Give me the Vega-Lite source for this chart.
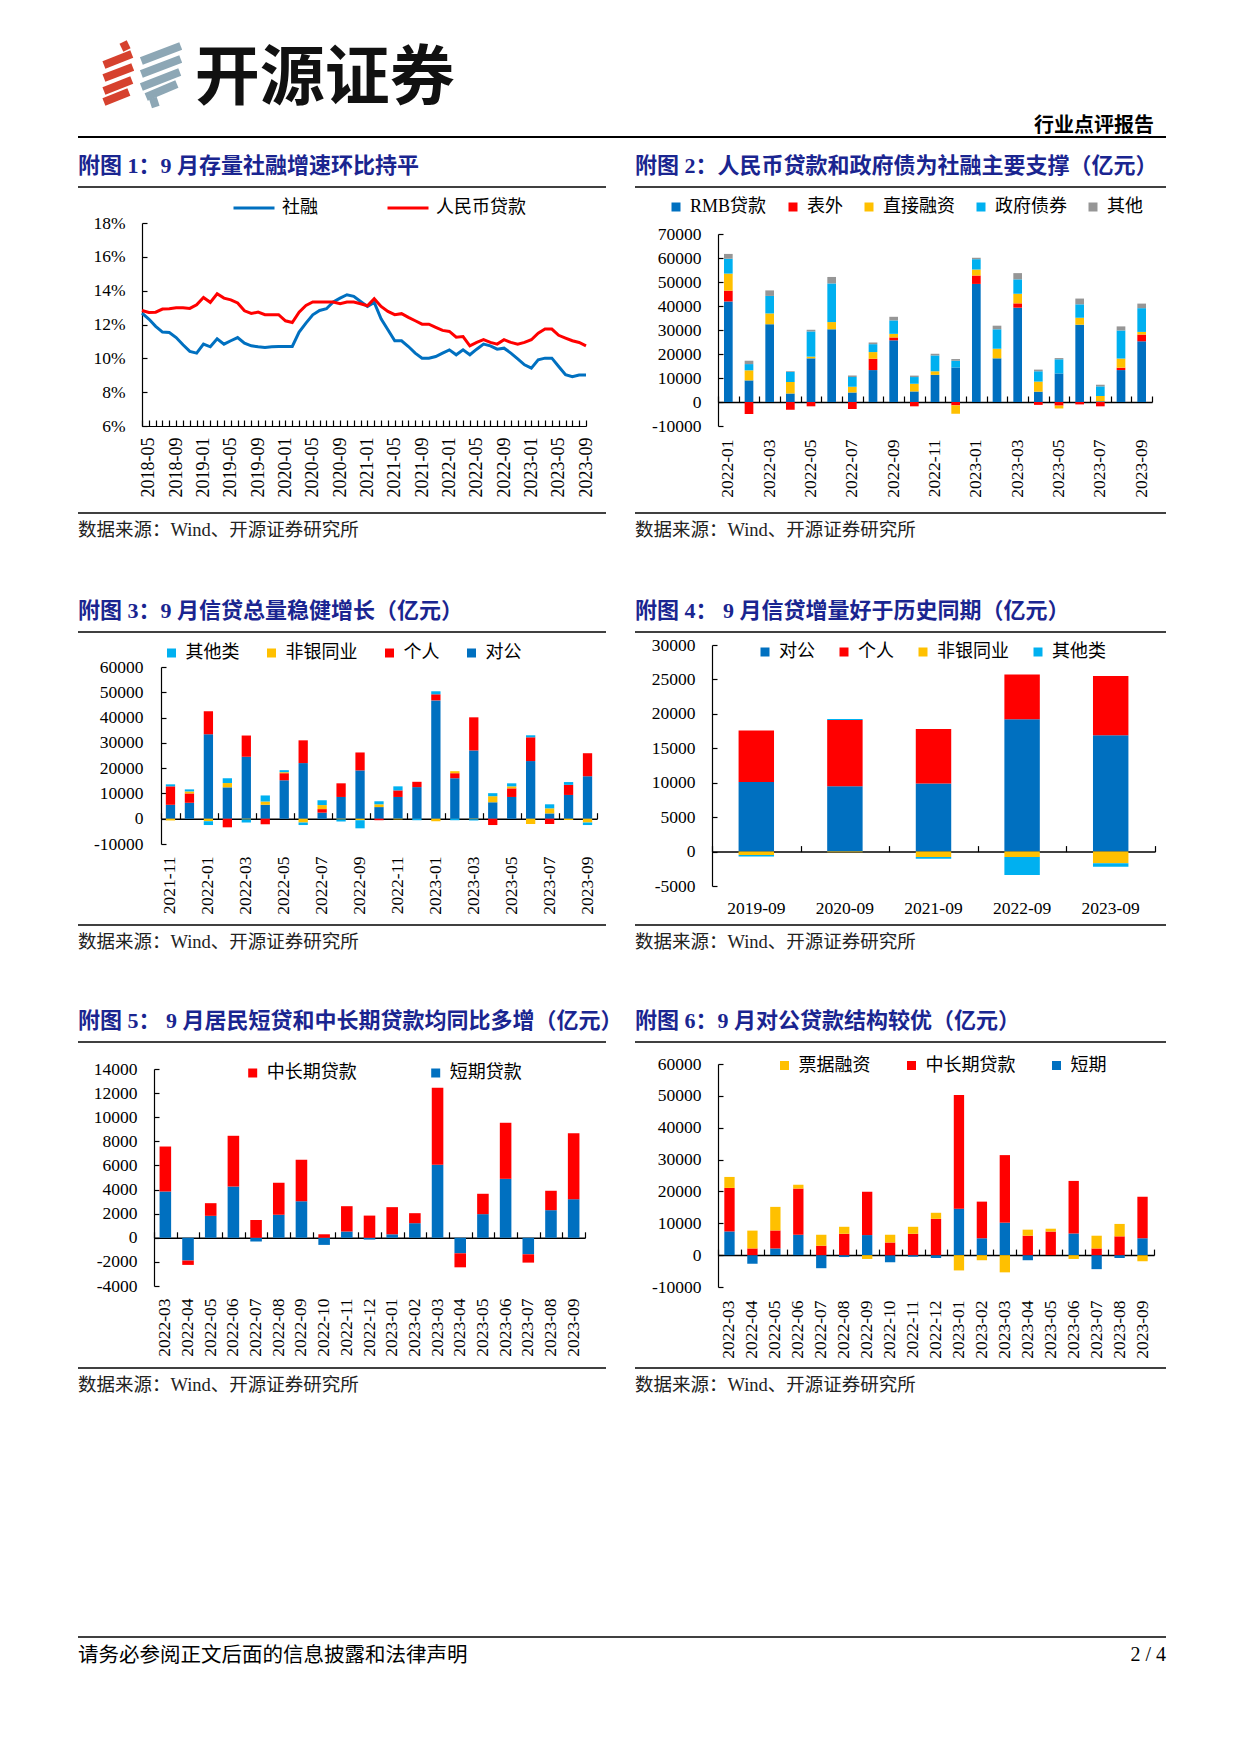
{
"$schema": "https://vega.github.io/schema/vega-lite/v6.json",
"padding": 0,
"background": "white",
"columns": 4,
"spacing": 0,
"bounds": "flush",
"resolve": {"scale": {"color": "independent"}, "legend": {"color": "independent"}},
"config": {
  "view": {"stroke": null},
  "axis": {"labelFont": "Liberation Serif", "labelFontSize": 17.5, "labelColor": "#000", "domainColor": "#000", "tickColor": "#000", "domainWidth": 1.2, "tickWidth": 1.2, "grid": false, "labelOverlap": false},
  "legend": {"labelFont": "Liberation Serif, Noto Sans CJK SC", "labelFontSize": 18, "labelColor": "#000", "padding": 0, "labelOffset": 5, "symbolStrokeWidth": 0, "symbolType": "square", "symbolSize": 81, "symbolOpacity": 1}
},
"concat": [
  {"width": 78, "height": 1, "data": {"values": []}, "mark": "point"},
  {"width": 1, "height": 42, "data": {"values": []}, "mark": "point"},
  {"width": 1, "height": 1, "data": {"values": []}, "mark": "point"},
  {"width": 1, "height": 1, "data": {"values": []}, "mark": "point"},

  {"width": 1, "height": 1, "data": {"values": []}, "mark": "point"},
  {"width": 528, "height": 65,
   "layer": [
     {"data": {"values": [
       {"x1": 27, "y1": 23, "x2": 56, "y2": 12, "c": "红"},
       {"x1": 27, "y1": 36, "x2": 57, "y2": 25, "c": "红"},
       {"x1": 27, "y1": 49, "x2": 56, "y2": 38, "c": "红"},
       {"x1": 27, "y1": 60, "x2": 53, "y2": 50, "c": "红"},
       {"x1": 47, "y1": 0, "x2": 51, "y2": 8, "c": "红"},
       {"x1": 66, "y1": 19, "x2": 107, "y2": 4, "c": "蓝"},
       {"x1": 66, "y1": 32, "x2": 107, "y2": 17, "c": "蓝"},
       {"x1": 66, "y1": 45, "x2": 106, "y2": 30, "c": "蓝"},
       {"x1": 71, "y1": 55, "x2": 103, "y2": 42, "c": "蓝"},
       {"x1": 78, "y1": 56, "x2": 81, "y2": 65, "c": "蓝"}
     ]},
      "mark": {"type": "rule", "strokeWidth": 8, "strokeCap": "butt"},
      "encoding": {
        "x": {"field": "x1", "type": "quantitative", "scale": {"domain": [0, 528]}, "axis": null},
        "y": {"field": "y1", "type": "quantitative", "scale": {"domain": [0, 65], "reverse": true}, "axis": null},
        "x2": {"field": "x2"},
        "y2": {"field": "y2"},
        "color": {"field": "c", "type": "nominal", "scale": {"domain": ["红", "蓝"], "range": ["#D6412E", "#8DA7B5"]}, "legend": null}
      }},
     {"data": {"values": [{"t": "开源证券"}]},
      "mark": {"type": "text", "font": "Noto Sans CJK SC", "fontSize": 65, "fontWeight": "bold", "color": "#111", "align": "center", "baseline": "middle"},
      "encoding": {
        "x": {"datum": 257, "type": "quantitative"},
        "y": {"datum": 37, "type": "quantitative"},
        "text": {"field": "t"}
      }}
   ]},
  {"width": 1, "height": 1, "data": {"values": []}, "mark": "point"},
  {"width": 1, "height": 1, "data": {"values": []}, "mark": "point"},

  {"width": 1, "height": 1, "data": {"values": []}, "mark": "point"},
  {"width": 1, "height": 30, "data": {"values": []}, "mark": "point"},
  {"width": 1, "height": 1, "data": {"values": []}, "mark": "point"},
  {"width": 1, "height": 1, "data": {"values": []}, "mark": "point"},

  {"width": 1, "height": 1, "data": {"values": []}, "mark": "point"},
  {"width": 528, "height": 50, "data": {"values": [{}]},
   "mark": {"type": "rule", "color": "#000", "strokeWidth": 2},
   "encoding": {"y": {"datum": 1, "type": "quantitative", "scale": {"domain": [0, 1]}, "axis": null}}},
  {"width": 29, "height": 50, "data": {"values": [{}]},
   "mark": {"type": "rule", "color": "#000", "strokeWidth": 2},
   "encoding": {"y": {"datum": 1, "type": "quantitative", "scale": {"domain": [0, 1]}, "axis": null}}},
  {"width": 531, "height": 50, "data": {"values": [{}]},
   "mark": {"type": "rule", "color": "#000", "strokeWidth": 2},
   "encoding": {"y": {"datum": 1, "type": "quantitative", "scale": {"domain": [0, 1]}, "axis": null}},
   "title": {"text": "行业点评报告", "orient": "top", "anchor": "end", "frame": "group", "offset": 0, "dx": -12, "font": "Noto Sans CJK SC", "fontSize": 20, "fontWeight": "bold", "color": "#000"}},

  {"width": 1, "height": 1, "data": {"values": []}, "mark": "point"},
  {"width": 528, "height": 36, "data": {"values": [{}]},
   "mark": {"type": "rule", "color": "#000", "strokeWidth": 1.3},
   "encoding": {"y": {"datum": 1, "type": "quantitative", "scale": {"domain": [0, 1]}, "axis": null}},
   "title": {"text": "附图 1：9 月存量社融增速环比持平", "orient": "top", "anchor": "start", "frame": "group", "offset": 8, "font": "Liberation Serif, Noto Sans CJK SC", "fontSize": 22, "fontWeight": "bold", "color": "#1A2590"}},
  {"width": 1, "height": 1, "data": {"values": []}, "mark": "point"},
  {"width": 531, "height": 36, "data": {"values": [{}]},
   "mark": {"type": "rule", "color": "#000", "strokeWidth": 1.3},
   "encoding": {"y": {"datum": 1, "type": "quantitative", "scale": {"domain": [0, 1]}, "axis": null}},
   "title": {"text": "附图 2：人民币贷款和政府债为社融主要支撑（亿元）", "orient": "top", "anchor": "start", "frame": "group", "offset": 8, "font": "Liberation Serif, Noto Sans CJK SC", "fontSize": 22, "fontWeight": "bold", "color": "#1A2590"}},

  {"width": 1, "height": 1, "data": {"values": []}, "mark": "point"},
  {"width": 528, "height": 203,
   "data": {"values": [
     {"m":"2018-04","社融":12.67,"人民币贷款":12.83},{"m":"2018-05","社融":12.32,"人民币贷款":12.71},
     {"m":"2018-06","社融":11.89,"人民币贷款":12.73},{"m":"2018-07","社融":11.55,"人民币贷款":12.91},
     {"m":"2018-08","社融":11.53,"人民币贷款":12.93},{"m":"2018-09","社融":11.23,"人民币贷款":12.99},
     {"m":"2018-10","社融":10.80,"人民币贷款":12.99},{"m":"2018-11","社融":10.41,"人民币贷款":12.95},
     {"m":"2018-12","社融":10.31,"人民币贷款":13.17},{"m":"2019-01","社融":10.84,"人民币贷款":13.60},
     {"m":"2019-02","社融":10.68,"人民币贷款":13.31},{"m":"2019-03","社融":11.16,"人民币贷款":13.82},
     {"m":"2019-04","社融":10.84,"人民币贷款":13.56},{"m":"2019-05","社融":11.04,"人民币贷款":13.46},
     {"m":"2019-06","社融":11.23,"人民币贷款":13.27},{"m":"2019-07","社融":10.90,"人民币贷款":12.81},
     {"m":"2019-08","社融":10.74,"人民币贷款":12.65},{"m":"2019-09","社融":10.68,"人民币贷款":12.73},
     {"m":"2019-10","社融":10.64,"人民币贷款":12.58},{"m":"2019-11","社融":10.68,"人民币贷款":12.58},
     {"m":"2019-12","社融":10.70,"人民币贷款":12.58},{"m":"2020-01","社融":10.70,"人民币贷款":12.22},
     {"m":"2020-02","社融":10.70,"人民币贷款":12.12},{"m":"2020-03","社融":11.55,"人民币贷款":12.73},
     {"m":"2020-04","社融":12.08,"人民币贷款":13.13},{"m":"2020-05","社融":12.57,"人民币贷款":13.33},
     {"m":"2020-06","社融":12.83,"人民币贷款":13.33},{"m":"2020-07","社融":12.93,"人民币贷款":13.33},
     {"m":"2020-08","社融":13.33,"人民币贷款":13.33},{"m":"2020-09","社融":13.56,"人民币贷款":13.23},
     {"m":"2020-10","社融":13.76,"人民币贷款":13.33},{"m":"2020-11","社融":13.66,"人民币贷款":13.33},
     {"m":"2020-12","社融":13.36,"人民币贷款":13.23},{"m":"2021-01","社融":13.07,"人民币贷款":13.11},
     {"m":"2021-02","社融":13.31,"人民币贷款":13.52},{"m":"2021-03","社融":12.34,"人民币贷款":13.07},
     {"m":"2021-04","社融":11.69,"人民币贷款":12.77},{"m":"2021-05","社融":11.04,"人民币贷款":12.58},
     {"m":"2021-06","社融":11.04,"人民币贷款":12.64},{"m":"2021-07","社融":10.70,"人民币贷款":12.42},
     {"m":"2021-08","社融":10.31,"人民币贷款":12.22},{"m":"2021-09","社融":10.01,"人民币贷款":12.02},
     {"m":"2021-10","社融":10.01,"人民币贷款":12.02},{"m":"2021-11","社融":10.11,"人民币贷款":11.83},
     {"m":"2021-12","社融":10.31,"人民币贷款":11.65},{"m":"2022-01","社融":10.50,"人民币贷款":11.59},
     {"m":"2022-02","社融":10.21,"人民币贷款":11.25},{"m":"2022-03","社融":10.50,"人民币贷款":11.29},
     {"m":"2022-04","社融":10.21,"人民币贷款":10.74},{"m":"2022-05","社融":10.54,"人民币贷款":10.94},
     {"m":"2022-06","社融":10.84,"人民币贷款":11.10},{"m":"2022-07","社融":10.74,"人民币贷款":10.94},
     {"m":"2022-08","社融":10.54,"人民币贷款":10.84},{"m":"2022-09","社融":10.60,"人民币贷款":11.10},
     {"m":"2022-10","社融":10.31,"人民币贷款":10.94},{"m":"2022-11","社融":9.97,"人民币贷款":10.84},
     {"m":"2022-12","社融":9.62,"人民币贷款":10.94},{"m":"2023-01","社融":9.42,"人民币贷款":11.10},
     {"m":"2023-02","社融":9.91,"人民币贷款":11.49},{"m":"2023-03","社融":10.01,"人民币贷款":11.73},
     {"m":"2023-04","社融":10.01,"人民币贷款":11.73},{"m":"2023-05","社融":9.52,"人民币贷款":11.36},
     {"m":"2023-06","社融":9.03,"人民币贷款":11.20},{"m":"2023-07","社融":8.91,"人民币贷款":11.04},
     {"m":"2023-08","社融":9.01,"人民币贷款":10.94},{"m":"2023-09","社融":9.01,"人民币贷款":10.74}
   ]},
   "transform": [{"fold": ["社融", "人民币贷款"], "as": ["s", "v"]}],
   "mark": {"type": "line", "strokeWidth": 3},
   "encoding": {
     "x": {"field": "m", "type": "ordinal", "scale": {"type": "point", "padding": 0, "range": [64, 508]},
           "axis": {"title": null, "labelAngle": 270, "labelFontSize": 18, "labelExpr": "(toNumber(substring(datum.value, 5, 7)) - 1) % 4 === 0 ? datum.value : ''", "tickSize": -6, "labelPadding": 17}},
     "y": {"field": "v", "type": "quantitative", "scale": {"domain": [6, 18], "nice": false, "zero": false},
           "axis": {"title": null, "offset": -64, "values": [6, 8, 10, 12, 14, 16, 18], "labelExpr": "datum.value + '%'", "tickSize": -5, "labelPadding": 22}},
     "color": {"field": "s", "type": "nominal", "scale": {"domain": ["社融", "人民币贷款"], "range": ["#0070C0", "#FF0000"]},
               "legend": {"orient": "none", "legendX": 154, "legendY": -37, "direction": "horizontal", "title": null, "symbolType": "stroke", "symbolSize": 1681, "symbolStrokeWidth": 3, "labelOffset": 6, "columnPadding": 63}}
   }},
  {"width": 1, "height": 1, "data": {"values": []}, "mark": "point"},
  {"width": 531, "height": 203,
   "data": {"values": [
     {"m":"2022-01","RMB贷款":41900,"表外":4500,"直接融资":7100,"政府债券":6200,"其他":2000},
     {"m":"2022-02","RMB贷款":9000,"表外":-5000,"直接融资":4200,"政府债券":2600,"其他":1400},
     {"m":"2022-03","RMB贷款":32400,"表外":0,"直接融资":4500,"政府债券":7300,"其他":2300},
     {"m":"2022-04","RMB贷款":3500,"表外":-3200,"直接融资":4800,"政府债券":4200,"其他":300},
     {"m":"2022-05","RMB贷款":18200,"表外":-1800,"直接融资":700,"政府债券":10500,"其他":700},
     {"m":"2022-06","RMB贷款":30300,"表外":0,"直接融资":3000,"政府债券":16100,"其他":2700},
     {"m":"2022-07","RMB贷款":4000,"表外":-2900,"直接融资":2400,"政府债券":4000,"其他":600},
     {"m":"2022-08","RMB贷款":13300,"表外":4700,"直接融资":2800,"政府债券":3300,"其他":700},
     {"m":"2022-09","RMB贷款":25700,"表外":1200,"直接融资":1500,"政府债券":5600,"其他":1500},
     {"m":"2022-10","RMB贷款":4400,"表外":-1800,"直接融资":3200,"政府债券":2800,"其他":600},
     {"m":"2022-11","RMB贷款":11300,"表外":0,"直接融资":1500,"政府债券":6600,"其他":700},
     {"m":"2022-12","RMB贷款":14400,"表外":-1400,"直接融资":-3500,"政府债券":2800,"其他":700},
     {"m":"2023-01","RMB贷款":49200,"表外":3500,"直接融资":2500,"政府债券":4300,"其他":600},
     {"m":"2023-02","RMB贷款":18200,"表外":0,"直接融资":4000,"政府债券":8100,"其他":1500},
     {"m":"2023-03","RMB贷款":39300,"表外":1800,"直接融资":4000,"政府债券":6000,"其他":2600},
     {"m":"2023-04","RMB贷款":4300,"表外":-1200,"直接融资":4200,"政府债券":4300,"其他":700},
     {"m":"2023-05","RMB贷款":11900,"表外":-1500,"直接融资":-1200,"政府债券":5900,"其他":500},
     {"m":"2023-06","RMB贷款":32200,"表外":-1000,"直接融资":2900,"政府债券":5600,"其他":2400},
     {"m":"2023-07","RMB贷款":300,"表外":-1800,"直接融资":2200,"政府债券":4000,"其他":700},
     {"m":"2023-08","RMB贷款":13300,"表外":1000,"直接融资":3800,"政府债券":11700,"其他":1700},
     {"m":"2023-09","RMB贷款":25300,"表外":2800,"直接融资":1100,"政府债券":9900,"其他":1900}
   ]},
   "transform": [
     {"fold": ["RMB贷款", "表外", "直接融资", "政府债券", "其他"], "as": ["k", "v"]},
     {"lookup": "k", "from": {"data": {"values": [{"k": "RMB贷款", "o": 1}, {"k": "表外", "o": 2}, {"k": "直接融资", "o": 3}, {"k": "政府债券", "o": 4}, {"k": "其他", "o": 5}]}, "key": "k", "fields": ["o"]}}
   ],
   "layer": [
     {"mark": {"type": "bar", "width": {"band": 0.42}},
      "encoding": {
        "x": {"field": "m", "type": "ordinal", "scale": {"paddingInner": 0, "paddingOuter": 0, "range": [83, 517]},
              "axis": {"title": null, "orient": "bottom", "labelAngle": 270, "labelExpr": "toNumber(substring(datum.value, 5, 7)) % 2 === 1 ? datum.value : ''", "ticks": false, "domain": false, "labelPadding": 13}},
        "y": {"field": "v", "type": "quantitative", "stack": "zero", "scale": {"domain": [-10000, 70000], "nice": false, "range": [203, 11]},
              "axis": {"title": null, "offset": -83, "values": [-10000, 0, 10000, 20000, 30000, 40000, 50000, 60000, 70000], "labelExpr": "datum.value + ''", "tickSize": -5, "labelPadding": 22}},
        "color": {"field": "k", "type": "nominal", "scale": {"domain": ["RMB贷款", "表外", "直接融资", "政府债券", "其他"], "range": ["#0070C0", "#FF0000", "#FFC000", "#00B0F0", "#969696"]},
                  "legend": {"orient": "none", "legendX": 32, "legendY": -25, "direction": "horizontal", "title": null, "symbolType": "square", "columnPadding": 17}},
        "order": {"field": "o", "type": "quantitative"}
      }},
     {"mark": {"type": "bar", "opacity": 0},
      "encoding": {"x": {"field": "m", "type": "ordinal", "axis": {"title": null, "orient": "top", "offset": -179, "labels": false, "tickBand": "extent", "tickSize": 6, "domainWidth": 1.5}}}}
   ],
   "resolve": {"axis": {"x": "independent"}}},

  {"width": 1, "height": 1, "data": {"values": []}, "mark": "point"},
  {"width": 528, "height": 87, "data": {"values": [{}]},
   "mark": {"type": "rule", "color": "#000", "strokeWidth": 1.3},
   "encoding": {"y": {"datum": 0, "type": "quantitative", "scale": {"domain": [0, 1]}, "axis": null}},
   "title": {"text": "数据来源：Wind、开源证券研究所", "orient": "bottom", "anchor": "start", "frame": "group", "offset": 7, "font": "Liberation Serif, Noto Sans CJK SC", "fontSize": 18.5, "fontWeight": "normal", "color": "#222"}},
  {"width": 1, "height": 1, "data": {"values": []}, "mark": "point"},
  {"width": 531, "height": 87, "data": {"values": [{}]},
   "mark": {"type": "rule", "color": "#000", "strokeWidth": 1.3},
   "encoding": {"y": {"datum": 0, "type": "quantitative", "scale": {"domain": [0, 1]}, "axis": null}},
   "title": {"text": "数据来源：Wind、开源证券研究所", "orient": "bottom", "anchor": "start", "frame": "group", "offset": 7, "font": "Liberation Serif, Noto Sans CJK SC", "fontSize": 18.5, "fontWeight": "normal", "color": "#222"}},

  {"width": 1, "height": 1, "data": {"values": []}, "mark": "point"},
  {"width": 1, "height": 119, "data": {"values": []}, "mark": "point"},
  {"width": 1, "height": 1, "data": {"values": []}, "mark": "point"},
  {"width": 1, "height": 1, "data": {"values": []}, "mark": "point"},

  {"width": 1, "height": 1, "data": {"values": []}, "mark": "point"},
  {"width": 528, "height": 13, "data": {"values": [{}]},
   "mark": {"type": "rule", "color": "#000", "strokeWidth": 1.3},
   "encoding": {"y": {"datum": 1, "type": "quantitative", "scale": {"domain": [0, 1]}, "axis": null}},
   "title": {"text": "附图 3：9 月信贷总量稳健增长（亿元）", "orient": "top", "anchor": "start", "frame": "group", "offset": 8, "font": "Liberation Serif, Noto Sans CJK SC", "fontSize": 22, "fontWeight": "bold", "color": "#1A2590"}},
  {"width": 1, "height": 1, "data": {"values": []}, "mark": "point"},
  {"width": 531, "height": 13, "data": {"values": [{}]},
   "mark": {"type": "rule", "color": "#000", "strokeWidth": 1.3},
   "encoding": {"y": {"datum": 1, "type": "quantitative", "scale": {"domain": [0, 1]}, "axis": null}},
   "title": {"text": "附图 4：  9 月信贷增量好于历史同期（亿元）", "orient": "top", "anchor": "start", "frame": "group", "offset": 8, "font": "Liberation Serif, Noto Sans CJK SC", "fontSize": 22, "fontWeight": "bold", "color": "#1A2590"}},

  {"width": 1, "height": 1, "data": {"values": []}, "mark": "point"},
  {"width": 528, "height": 241,
   "data": {"values": [
     {"m":"2021-11","对公":5500,"个人":7300,"非银同业":-700,"其他类":800},
     {"m":"2021-12","对公":6300,"个人":3700,"非银同业":800,"其他类":800},
     {"m":"2022-01","对公":33400,"个人":9100,"非银同业":-1000,"其他类":-1500},
     {"m":"2022-02","对公":12400,"个人":-3400,"非银同业":1700,"其他类":1900},
     {"m":"2022-03","对公":24500,"个人":8400,"非银同业":-300,"其他类":-1200},
     {"m":"2022-04","对公":5500,"个人":-2200,"非银同业":1300,"其他类":2400},
     {"m":"2022-05","对公":15200,"个人":2800,"非银同业":400,"其他类":800},
     {"m":"2022-06","对公":22000,"个人":9000,"非银同业":-1500,"其他类":-1000},
     {"m":"2022-07","对公":2400,"个人":1400,"非银同业":1600,"其他类":1900},
     {"m":"2022-08","对公":8600,"个人":5400,"非银同业":-300,"其他类":-800},
     {"m":"2022-09","对公":19100,"个人":7100,"非银同业":-600,"其他类":-3200},
     {"m":"2022-10","对公":4600,"个人":-600,"非银同业":1100,"其他类":1200},
     {"m":"2022-11","对公":8600,"个人":2600,"非银同业":-300,"其他类":1600},
     {"m":"2022-12","对公":12500,"个人":2100,"非银同业":0,"其他类":-600},
     {"m":"2023-01","对公":46800,"个人":2400,"非银同业":-1000,"其他类":1200},
     {"m":"2023-02","对公":16000,"个人":2000,"非银同业":800,"其他类":-600},
     {"m":"2023-03","对公":27000,"个人":13100,"非银同业":-200,"其他类":-500},
     {"m":"2023-04","对公":6500,"个人":-2500,"非银同业":2400,"其他类":1200},
     {"m":"2023-05","对公":8600,"个人":3400,"非银同业":800,"其他类":1200},
     {"m":"2023-06","对公":22800,"个人":9400,"非银同业":-2100,"其他类":800},
     {"m":"2023-07","对公":2100,"个人":-2100,"非银同业":2000,"其他类":1600},
     {"m":"2023-08","对公":9400,"个人":4000,"非银同业":-500,"其他类":1100},
     {"m":"2023-09","对公":16800,"个人":9100,"非银同业":-1500,"其他类":-1000}
   ]},
   "transform": [
     {"fold": ["对公", "个人", "非银同业", "其他类"], "as": ["k", "v"]},
     {"lookup": "k", "from": {"data": {"values": [{"k": "对公", "o": 1}, {"k": "个人", "o": 2}, {"k": "非银同业", "o": 3}, {"k": "其他类", "o": 4}]}, "key": "k", "fields": ["o"]}}
   ],
   "layer": [
     {"mark": {"type": "bar", "width": {"band": 0.49}},
      "encoding": {
        "x": {"field": "m", "type": "ordinal", "scale": {"paddingInner": 0, "paddingOuter": 0, "range": [83, 519]},
              "axis": {"title": null, "orient": "bottom", "offset": -42, "labelAngle": 270, "labelExpr": "toNumber(substring(datum.value, 5, 7)) % 2 === 1 ? datum.value : ''", "ticks": false, "domain": false, "labelPadding": 12}},
        "y": {"field": "v", "type": "quantitative", "stack": "zero", "scale": {"domain": [-10000, 60000], "nice": false, "range": [199, 22]},
              "axis": {"title": null, "offset": -83, "values": [-10000, 0, 10000, 20000, 30000, 40000, 50000, 60000], "labelExpr": "datum.value + ''", "tickSize": -5, "labelPadding": 23}},
        "color": {"field": "k", "type": "nominal", "scale": {"domain": ["其他类", "非银同业", "个人", "对公"], "range": ["#00B0F0", "#FFC000", "#FF0000", "#0070C0"]},
                  "legend": {"orient": "none", "legendX": 84.5, "legendY": -1, "direction": "horizontal", "title": null, "symbolType": "square", "columnPadding": 23}},
        "order": {"field": "o", "type": "quantitative"}
      }},
     {"mark": {"type": "bar", "opacity": 0},
      "encoding": {"x": {"field": "m", "type": "ordinal", "axis": {"title": null, "orient": "top", "offset": -173.7, "labels": false, "tickBand": "extent", "tickSize": 6, "domainWidth": 1.5, "values": ["2021-11", "2022-01", "2022-03", "2022-05", "2022-07", "2022-09", "2022-11", "2023-01", "2023-03", "2023-05", "2023-07", "2023-09"]}}}}
   ],
   "resolve": {"axis": {"x": "independent"}}},
  {"width": 1, "height": 1, "data": {"values": []}, "mark": "point"},
  {"width": 531, "height": 241,
   "data": {"values": [
     {"m":"2019-09","对公":10100,"个人":7500,"非银同业":-500,"其他类":-200},
     {"m":"2020-09","对公":9500,"个人":9600,"非银同业":-100,"其他类":150},
     {"m":"2021-09","对公":9900,"个人":7900,"非银同业":-800,"其他类":-250},
     {"m":"2022-09","对公":19200,"个人":6500,"非银同业":-800,"其他类":-2600},
     {"m":"2023-09","对公":16900,"个人":8600,"非银同业":-1700,"其他类":-500}
   ]},
   "transform": [
     {"fold": ["对公", "个人", "非银同业", "其他类"], "as": ["k", "v"]},
     {"lookup": "k", "from": {"data": {"values": [{"k": "对公", "o": 1}, {"k": "个人", "o": 2}, {"k": "非银同业", "o": 3}, {"k": "其他类", "o": 4}]}, "key": "k", "fields": ["o"]}}
   ],
   "layer": [
     {"mark": {"type": "bar", "width": {"band": 0.4}},
      "encoding": {
        "x": {"field": "m", "type": "ordinal", "scale": {"paddingInner": 0, "paddingOuter": 0, "range": [77, 520]},
              "axis": {"title": null, "orient": "bottom", "labelAngle": 0, "ticks": false, "domain": false, "labelPadding": 13}},
        "y": {"field": "v", "type": "quantitative", "stack": "zero", "scale": {"domain": [-5000, 30000], "nice": false},
              "axis": {"title": null, "offset": -77, "values": [-5000, 0, 5000, 10000, 15000, 20000, 25000, 30000], "labelExpr": "datum.value + ''", "tickSize": -5, "labelPadding": 22}},
        "color": {"field": "k", "type": "nominal", "scale": {"domain": ["对公", "个人", "非银同业", "其他类"], "range": ["#0070C0", "#FF0000", "#FFC000", "#00B0F0"]},
                  "legend": {"orient": "none", "legendX": 121, "legendY": -2, "direction": "horizontal", "title": null, "symbolType": "square", "columnPadding": 20}},
        "order": {"field": "o", "type": "quantitative"}
      }},
     {"mark": {"type": "bar", "opacity": 0},
      "encoding": {"x": {"field": "m", "type": "ordinal", "axis": {"title": null, "orient": "top", "offset": -206.6, "labels": false, "tickBand": "extent", "tickSize": 6, "domainWidth": 1.5}}}}
   ],
   "resolve": {"axis": {"x": "independent"}}},

  {"width": 1, "height": 1, "data": {"values": []}, "mark": "point"},
  {"width": 528, "height": 39, "data": {"values": [{}]},
   "mark": {"type": "rule", "color": "#000", "strokeWidth": 1.3},
   "encoding": {"y": {"datum": 0, "type": "quantitative", "scale": {"domain": [0, 1]}, "axis": null}},
   "title": {"text": "数据来源：Wind、开源证券研究所", "orient": "bottom", "anchor": "start", "frame": "group", "offset": 7, "font": "Liberation Serif, Noto Sans CJK SC", "fontSize": 18.5, "fontWeight": "normal", "color": "#222"}},
  {"width": 1, "height": 1, "data": {"values": []}, "mark": "point"},
  {"width": 531, "height": 39, "data": {"values": [{}]},
   "mark": {"type": "rule", "color": "#000", "strokeWidth": 1.3},
   "encoding": {"y": {"datum": 0, "type": "quantitative", "scale": {"domain": [0, 1]}, "axis": null}},
   "title": {"text": "数据来源：Wind、开源证券研究所", "orient": "bottom", "anchor": "start", "frame": "group", "offset": 7, "font": "Liberation Serif, Noto Sans CJK SC", "fontSize": 18.5, "fontWeight": "normal", "color": "#222"}},

  {"width": 1, "height": 1, "data": {"values": []}, "mark": "point"},
  {"width": 1, "height": 117, "data": {"values": []}, "mark": "point"},
  {"width": 1, "height": 1, "data": {"values": []}, "mark": "point"},
  {"width": 1, "height": 1, "data": {"values": []}, "mark": "point"},

  {"width": 1, "height": 1, "data": {"values": []}, "mark": "point"},
  {"width": 528, "height": 22, "data": {"values": [{}]},
   "mark": {"type": "rule", "color": "#000", "strokeWidth": 1.3},
   "encoding": {"y": {"datum": 1, "type": "quantitative", "scale": {"domain": [0, 1]}, "axis": null}},
   "title": {"text": "附图 5：  9 月居民短贷和中长期贷款均同比多增（亿元）", "orient": "top", "anchor": "start", "frame": "group", "offset": 8, "font": "Liberation Serif, Noto Sans CJK SC", "fontSize": 22, "fontWeight": "bold", "color": "#1A2590"}},
  {"width": 1, "height": 1, "data": {"values": []}, "mark": "point"},
  {"width": 531, "height": 22, "data": {"values": [{}]},
   "mark": {"type": "rule", "color": "#000", "strokeWidth": 1.3},
   "encoding": {"y": {"datum": 1, "type": "quantitative", "scale": {"domain": [0, 1]}, "axis": null}},
   "title": {"text": "附图 6：9 月对公贷款结构较优（亿元）", "orient": "top", "anchor": "start", "frame": "group", "offset": 8, "font": "Liberation Serif, Noto Sans CJK SC", "fontSize": 22, "fontWeight": "bold", "color": "#1A2590"}},

  {"width": 1, "height": 1, "data": {"values": []}, "mark": "point"},
  {"width": 528, "height": 223,
   "data": {"values": [
     {"m":"2022-03","短期贷款":3840,"中长期贷款":3730},
     {"m":"2022-04","短期贷款":-1890,"中长期贷款":-360},
     {"m":"2022-05","短期贷款":1820,"中长期贷款":1050},
     {"m":"2022-06","短期贷款":4250,"中长期贷款":4210},
     {"m":"2022-07","短期贷款":-310,"中长期贷款":1480},
     {"m":"2022-08","短期贷款":1900,"中长期贷款":2660},
     {"m":"2022-09","短期贷款":3030,"中长期贷款":3440},
     {"m":"2022-10","短期贷款":-590,"中长期贷款":290},
     {"m":"2022-11","短期贷款":520,"中长期贷款":2100},
     {"m":"2022-12","短期贷款":-150,"中长期贷款":1840},
     {"m":"2023-01","短期贷款":290,"中长期贷款":2250},
     {"m":"2023-02","短期贷款":1210,"中长期贷款":830},
     {"m":"2023-03","短期贷款":6050,"中长期贷款":6400},
     {"m":"2023-04","短期贷款":-1290,"中长期贷款":-1160},
     {"m":"2023-05","短期贷款":1960,"中长期贷款":1690},
     {"m":"2023-06","短期贷款":4890,"中长期贷款":4650},
     {"m":"2023-07","短期贷款":-1370,"中长期贷款":-690},
     {"m":"2023-08","短期贷款":2290,"中长期贷款":1610},
     {"m":"2023-09","短期贷款":3200,"中长期贷款":5480}
   ]},
   "transform": [
     {"fold": ["短期贷款", "中长期贷款"], "as": ["k", "v"]},
     {"lookup": "k", "from": {"data": {"values": [{"k": "短期贷款", "o": 1}, {"k": "中长期贷款", "o": 2}]}, "key": "k", "fields": ["o"]}}
   ],
   "layer": [
     {"mark": {"type": "bar", "width": {"band": 0.51}},
      "encoding": {
        "x": {"field": "m", "type": "ordinal", "scale": {"paddingInner": 0, "paddingOuter": 0, "range": [76, 507]},
              "axis": {"title": null, "orient": "bottom", "offset": -1, "labelAngle": 270, "ticks": false, "domain": false, "labelPadding": 12}},
        "y": {"field": "v", "type": "quantitative", "stack": "zero", "scale": {"domain": [-4000, 14000], "nice": false, "range": [222, 5]},
              "axis": {"title": null, "offset": -76, "values": [-4000, -2000, 0, 2000, 4000, 6000, 8000, 10000, 12000, 14000], "labelExpr": "datum.value + ''", "tickSize": -5, "labelPadding": 22}},
        "color": {"field": "k", "type": "nominal", "scale": {"domain": ["中长期贷款", "短期贷款"], "range": ["#FF0000", "#0070C0"]},
                  "legend": {"orient": "none", "legendX": 165.7, "legendY": 0, "direction": "horizontal", "title": null, "symbolType": "square", "columnPadding": 70}},
        "order": {"field": "o", "type": "quantitative"}
      }},
     {"mark": {"type": "bar", "opacity": 0},
      "encoding": {"x": {"field": "m", "type": "ordinal", "axis": {"title": null, "orient": "top", "offset": -173.8, "labels": false, "tickBand": "extent", "tickSize": 6, "domainWidth": 1.5}}}}
   ],
   "resolve": {"axis": {"x": "independent"}}},
  {"width": 1, "height": 1, "data": {"values": []}, "mark": "point"},
  {"width": 531, "height": 223,
   "data": {"values": [
     {"m":"2022-03","短期":7450,"中长期贷款":13650,"票据融资":3450},
     {"m":"2022-04","短期":-2700,"中长期贷款":2100,"票据融资":5600},
     {"m":"2022-05","短期":2100,"中长期贷款":5650,"票据融资":7400},
     {"m":"2022-06","短期":6400,"中长期贷款":14500,"票据融资":1200},
     {"m":"2022-07","短期":-4100,"中长期贷款":2950,"票据融资":3450},
     {"m":"2022-08","短期":-600,"中长期贷款":6700,"票据融资":2200},
     {"m":"2022-09","短期":6300,"中长期贷款":13600,"票据融资":-1200},
     {"m":"2022-10","短期":-2200,"中长期贷款":4000,"票据融资":2400},
     {"m":"2022-11","短期":-500,"中长期贷款":6700,"票据融资":2200},
     {"m":"2022-12","短期":-900,"中长期贷款":11400,"票据融资":1900},
     {"m":"2023-01","短期":14600,"中长期贷款":35700,"票据融资":-4800},
     {"m":"2023-02","短期":5300,"中长期贷款":11500,"票据融资":-1600},
     {"m":"2023-03","短期":10200,"中长期贷款":21200,"票据融资":-5400},
     {"m":"2023-04","短期":-1600,"中长期贷款":6100,"票据融资":1900},
     {"m":"2023-05","短期":0,"中长期贷款":7400,"票据融资":900},
     {"m":"2023-06","短期":6800,"中长期贷款":16500,"票据融资":-1200},
     {"m":"2023-07","短期":-4400,"中长期贷款":2100,"票据融资":4000},
     {"m":"2023-08","短期":-900,"中长期贷款":5900,"票据融资":3900},
     {"m":"2023-09","短期":5300,"中长期贷款":13000,"票据融资":-1900}
   ]},
   "transform": [
     {"fold": ["短期", "中长期贷款", "票据融资"], "as": ["k", "v"]},
     {"lookup": "k", "from": {"data": {"values": [{"k": "短期", "o": 1}, {"k": "中长期贷款", "o": 2}, {"k": "票据融资", "o": 3}]}, "key": "k", "fields": ["o"]}}
   ],
   "layer": [
     {"mark": {"type": "bar", "width": {"band": 0.45}},
      "encoding": {
        "x": {"field": "m", "type": "ordinal", "scale": {"paddingInner": 0, "paddingOuter": 0, "range": [83, 519]},
              "axis": {"title": null, "orient": "bottom", "labelAngle": 270, "ticks": false, "domain": false, "labelPadding": 13}},
        "y": {"field": "v", "type": "quantitative", "stack": "zero", "scale": {"domain": [-10000, 60000], "nice": false},
              "axis": {"title": null, "offset": -83, "values": [-10000, 0, 10000, 20000, 30000, 40000, 50000, 60000], "labelExpr": "datum.value + ''", "tickSize": -5, "labelPadding": 22}},
        "color": {"field": "k", "type": "nominal", "scale": {"domain": ["票据融资", "中长期贷款", "短期"], "range": ["#FFC000", "#FF0000", "#0070C0"]},
                  "legend": {"orient": "none", "legendX": 140.5, "legendY": -7.5, "direction": "horizontal", "title": null, "symbolType": "square", "columnPadding": 32}},
        "order": {"field": "o", "type": "quantitative"}
      }},
     {"mark": {"type": "bar", "opacity": 0},
      "encoding": {"x": {"field": "m", "type": "ordinal", "axis": {"title": null, "orient": "top", "offset": -191.1, "labels": false, "tickBand": "extent", "tickSize": 6, "domainWidth": 1.5}}}}
   ],
   "resolve": {"axis": {"x": "independent"}}},

  {"width": 1, "height": 1, "data": {"values": []}, "mark": "point"},
  {"width": 528, "height": 81, "data": {"values": [{}]},
   "mark": {"type": "rule", "color": "#000", "strokeWidth": 1.3},
   "encoding": {"y": {"datum": 0, "type": "quantitative", "scale": {"domain": [0, 1]}, "axis": null}},
   "title": {"text": "数据来源：Wind、开源证券研究所", "orient": "bottom", "anchor": "start", "frame": "group", "offset": 7, "font": "Liberation Serif, Noto Sans CJK SC", "fontSize": 18.5, "fontWeight": "normal", "color": "#222"}},
  {"width": 1, "height": 1, "data": {"values": []}, "mark": "point"},
  {"width": 531, "height": 81, "data": {"values": [{}]},
   "mark": {"type": "rule", "color": "#000", "strokeWidth": 1.3},
   "encoding": {"y": {"datum": 0, "type": "quantitative", "scale": {"domain": [0, 1]}, "axis": null}},
   "title": {"text": "数据来源：Wind、开源证券研究所", "orient": "bottom", "anchor": "start", "frame": "group", "offset": 7, "font": "Liberation Serif, Noto Sans CJK SC", "fontSize": 18.5, "fontWeight": "normal", "color": "#222"}},

  {"width": 1, "height": 1, "data": {"values": []}, "mark": "point"},
  {"width": 1, "height": 269, "data": {"values": []}, "mark": "point"},
  {"width": 1, "height": 1, "data": {"values": []}, "mark": "point"},
  {"width": 1, "height": 1, "data": {"values": []}, "mark": "point"},

  {"width": 1, "height": 1, "data": {"values": []}, "mark": "point"},
  {"width": 528, "height": 2, "data": {"values": [{}]},
   "mark": {"type": "rule", "color": "#000", "strokeWidth": 1.5},
   "encoding": {"y": {"datum": 1, "type": "quantitative", "scale": {"domain": [0, 1]}, "axis": null}},
   "title": {"text": "请务必参阅正文后面的信息披露和法律声明", "orient": "bottom", "anchor": "start", "frame": "group", "offset": 7, "font": "Noto Sans CJK SC", "fontSize": 20.5, "fontWeight": "normal", "color": "#000"}},
  {"width": 29, "height": 2, "data": {"values": [{}]},
   "mark": {"type": "rule", "color": "#000", "strokeWidth": 1.5},
   "encoding": {"y": {"datum": 1, "type": "quantitative", "scale": {"domain": [0, 1]}, "axis": null}}},
  {"width": 531, "height": 2, "data": {"values": [{}]},
   "mark": {"type": "rule", "color": "#000", "strokeWidth": 1.5},
   "encoding": {"y": {"datum": 1, "type": "quantitative", "scale": {"domain": [0, 1]}, "axis": null}},
   "title": {"text": "2 / 4", "orient": "bottom", "anchor": "end", "frame": "group", "offset": 6, "font": "Liberation Serif", "fontSize": 20, "fontWeight": "normal", "color": "#000"}}
]
}
